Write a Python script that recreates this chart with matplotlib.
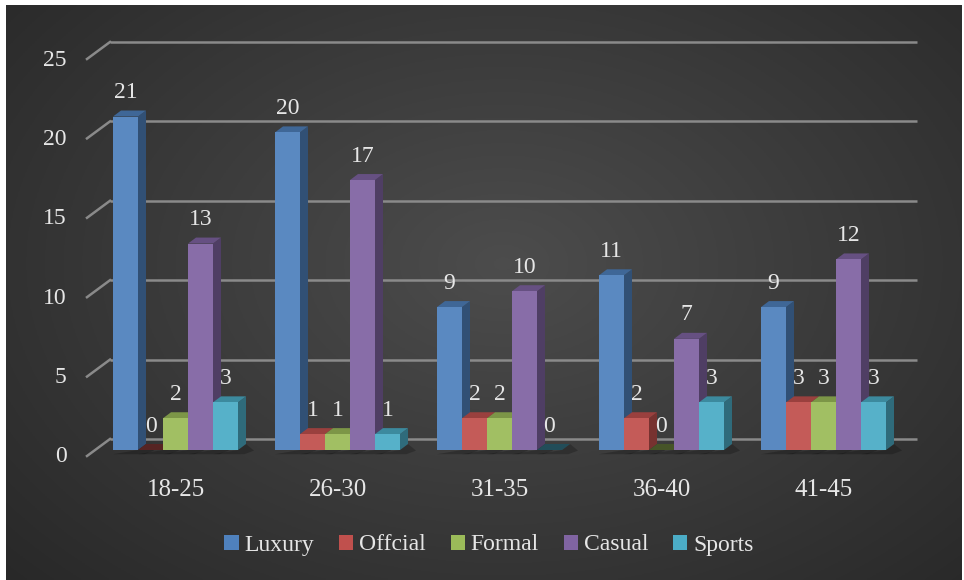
import matplotlib
matplotlib.use("Agg")
import matplotlib.pyplot as plt
import numpy as np
from matplotlib.patches import Polygon, Rectangle, Patch

categories = ["18-25", "26-30", "31-35", "36-40", "41-45"]
series_names = ["Luxury", "Offcial", "Formal", "Casual", "Sports"]
luxury = [21, 20, 9, 11, 9]
offcial = [0, 1, 2, 2, 3]
formal = [2, 1, 2, 0, 3]
casual = [13, 17, 10, 7, 12]
sports = [3, 1, 0, 3, 3]
y_ticks = [0, 5, 10, 15, 20, 25]

series = [luxury, offcial, formal, casual, sports]
COLORS = ["#4f81bd", "#c0504d", "#9bbb59", "#8064a2", "#4bacc6"]
TEXT = "#e6e6e6"
GRID = "#8a8a8a"

plt.rcParams["font.family"] = ["Liberation Serif", "DejaVu Serif"]
plt.rcParams["font.size"] = 17

W, H = 964, 580
fig = plt.figure(figsize=(W / 100, H / 100), dpi=100, facecolor="white")

# dark radial background (image border is left white)
bg = fig.add_axes([6 / W, 0, 956 / W, 575 / H])
gx, gy = np.meshgrid(np.linspace(0, 1, 400), np.linspace(0, 1, 240))
r = np.sqrt(((gx - 0.52) / 0.75) ** 2 + ((gy - 0.45) / 0.85) ** 2)
shade = 0.30 - 0.15 * np.clip(r, 0, 1)
bg.imshow(np.dstack([shade] * 3), aspect="auto", extent=(0, 1, 0, 1), origin="upper")
bg.set_axis_off()

# axes = the plane in which the bar fronts sit
x0_px, y0_px, xw_px, yh_px = 94.5, 450, 810, 397
ax = fig.add_axes([x0_px / W, (H - y0_px) / H, xw_px / W, yh_px / H])
ax.set_xlim(-0.5, len(categories) - 0.5)
ax.set_ylim(0, 25)
ax.set_axis_off()
ax.patch.set_alpha(0)

px_x = len(categories) / xw_px
px_y = 25 / yh_px


def shade_col(c, f):
    rgb = np.array(matplotlib.colors.to_rgb(c))
    if f < 1:
        return tuple(rgb * f)
    return tuple(rgb + (1 - rgb) * (f - 1))


# gridlines on back wall + diagonal on the left side wall
xl, xr = -0.5, len(categories) - 0.5
for v in y_ticks:
    yb = v + 11 * px_y
    ax.plot([xl + 15.5 * px_x, xr + 12.5 * px_x], [yb, yb], color=GRID, lw=1.8,
            solid_capstyle="butt", clip_on=False, zorder=1)
    ax.plot([xl - 7.5 * px_x, xl + 15.5 * px_x], [v - 6 * px_y, yb], color=GRID,
            lw=1.8, clip_on=False, zorder=1)
    ax.annotate(str(v), xy=(xl, v), xytext=(-28, -7), textcoords="offset pixels",
                ha="right", va="center", color=TEXT, annotation_clip=False)

# 3D bars
bw = 25 * px_x
ddx, ddy = 8 * px_x, 6 * px_y
n = len(series)
for ci in range(len(categories)):
    for si in range(n):
        v = series[si][ci]
        c = COLORS[si]
        x = ci + (si - n / 2) * bw
        z = 3 + ci * 10 + si
        # soft shadow on the floor
        ax.add_patch(Polygon([(x + bw, 0), (x + bw + ddx, ddy), (x + bw + 2.0 * ddx, -0.1 * ddy),
                              (x + bw + ddx * 0.8, -0.7 * ddy), (x, -0.7 * ddy)],
                             closed=True, fc=(0, 0, 0, 0.22), ec="none", zorder=2,
                             clip_on=False))
        if v == 0:
            ax.add_patch(Polygon([(x, 0), (x + bw, 0), (x + bw + ddx, ddy), (x + ddx, ddy)],
                                 closed=True, fc=shade_col(c, 0.45), ec="none", zorder=z,
                                 clip_on=False))
        else:
            ax.add_patch(Polygon([(x + bw, 0), (x + bw + ddx, ddy), (x + bw + ddx, v + ddy),
                                  (x + bw, v)], closed=True, fc=shade_col(c, 0.62),
                                 ec="none", zorder=z, clip_on=False))
            ax.add_patch(Polygon([(x, v), (x + bw, v), (x + bw + ddx, v + ddy), (x + ddx, v + ddy)],
                                 closed=True, fc=shade_col(c, 0.8), ec="none", zorder=z,
                                 clip_on=False))
            ax.add_patch(Rectangle((x, 0), bw, v, fc=shade_col(c, 1.06), ec="none", zorder=z,
                                   clip_on=False))
        ax.annotate(str(v), xy=(x + bw / 2, v), xytext=(0, 24), textcoords="offset pixels",
                    ha="center", va="center", color=TEXT, zorder=60, annotation_clip=False)

for ci, cat in enumerate(categories):
    ax.annotate(cat, xy=(ci, 0), xytext=(0, -40), textcoords="offset pixels",
                ha="center", va="center", color=TEXT, fontsize=18, annotation_clip=False)

handles = [Patch(fc=c, ec="none", label=s) for c, s in zip(COLORS, series_names)]
fig.legend(handles=handles, loc="center", bbox_to_anchor=(489 / W, 1 - 545 / H), ncol=5,
           frameon=False, handlelength=0.6, handleheight=0.6, handletextpad=0.25,
           columnspacing=1.05, labelcolor=TEXT)

fig.savefig("out.png", dpi=100, facecolor=fig.get_facecolor())
